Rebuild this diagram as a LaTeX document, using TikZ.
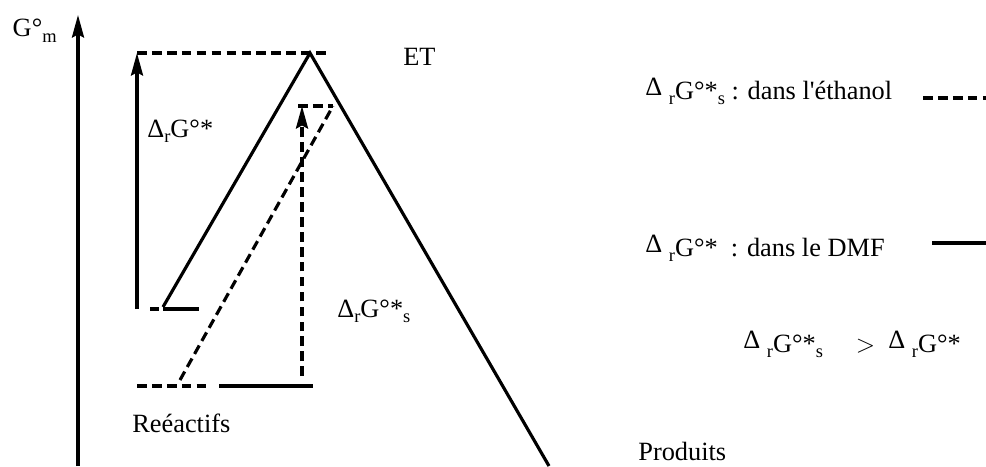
\documentclass[tikz,border=0pt]{standalone}
\usepackage{fontspec}
\setmainfont{Liberation Serif}
\usetikzlibrary{arrows.meta}

\newcommand{\subtxt}[1]{\raisebox{-3pt}{\fontsize{10.5}{12}\selectfont #1}}
\newcommand{\updelta}{\raisebox{2pt}{Δ}}

\begin{document}
\begin{tikzpicture}[
  x=0.02cm, y=-0.02cm,
  lvl/.style={line width=1.8pt},
  dsh/.style={lvl, dash pattern=on 5.5pt off 3pt},
  arr/.style={-{Stealth[length=4.5mm, width=2.4mm, inset=0.6mm]}, line width=1.8pt},
  lbl/.style={font=\fontsize{15}{17}\selectfont, inner sep=0pt},
]
  \useasboundingbox (0,0) rectangle (986,466);

  % ===== Axis =====
  \coordinate (ax0) at (78,466);
  \coordinate (ax1) at (78,15);
  \draw[arr] (ax0) -- (ax1);
  \node[lbl, anchor=base east] (gm) at (57,37) {G°\subtxt{m}};

  % ===== Levels =====
  \coordinate (ts) at (310,53);
  \coordinate (tsl) at (137,53);
  \coordinate (tsr) at (331,53);
  \coordinate (tsb) at (333,106);
  \coordinate (tsbl) at (298,106);
  \coordinate (ra) at (163,307);
  \coordinate (ra0) at (137,309);
  \coordinate (rad0) at (150,309);
  \coordinate (rad1) at (159,309);
  \coordinate (ras0) at (163,309);
  \coordinate (ras1) at (199,309);
  \coordinate (rb) at (180,380);
  \coordinate (rbd0) at (137,386);
  \coordinate (rbd1) at (208,386);
  \coordinate (rbs0) at (219,386);
  \coordinate (rbs1) at (313,386);
  \coordinate (rbv) at (302,376);
  \coordinate (tsv) at (302,106);
  \coordinate (prod) at (549,466);

  \draw[dsh] (tsl) -- (tsr);
  \draw[dsh] (tsbl) -- (tsb);
  \draw[dsh] (rad0) -- (rad1);
  \draw[lvl] (ras0) -- (ras1);
  \draw[dsh] (rbd0) -- (rbd1);
  \draw[lvl] (rbs0) -- (rbs1);

  % ===== Profiles =====
  \draw[lvl] (ra) -- (ts) -- (prod);
  \draw[dsh] (rb) -- (tsb);

  % ===== Barriers =====
  \draw[arr] (ra0) -- (tsl);
  \draw[arr, dash pattern=on 5.5pt off 3pt] (rbv) -- (tsv);

  \node[lbl, anchor=base west] (et) at (403,66) {ET};
  \node[lbl, anchor=base west] (dg) at (147,137) {Δ\subtxt{r}G°*};
  \node[lbl, anchor=base west] (dgs) at (337,317) {Δ\subtxt{r}G°*\subtxt{s}};
  \node[lbl, anchor=base west] (reac) at (132,432) {Reéactifs};
  \node[lbl, anchor=base west] (prd) at (638,460) {Produits};

  % ===== Legend =====
  \node[lbl, anchor=base west] (leg1) at (645,99)
    {\updelta\ \subtxt{r}G°*\subtxt{s} : dans l\textquotesingle éthanol};
  \node[lbl, anchor=base west] (leg2) at (645,256)
    {\updelta\ \subtxt{r}G°*\ \ : dans le DMF};
  \node[lbl, anchor=base west] (leg3) at (743,352)
    {\updelta\ \subtxt{r}G°*\subtxt{s}\quad\ $>$\ \ \updelta\ \subtxt{r}G°*};

  \coordinate (l1a) at (923,98);
  \coordinate (l1b) at (986,98);
  \coordinate (l2a) at (932,243);
  \coordinate (l2b) at (986,243);
  \draw[dsh] (l1a) -- (l1b);
  \draw[lvl] (l2a) -- (l2b);
\end{tikzpicture}
\end{document}
